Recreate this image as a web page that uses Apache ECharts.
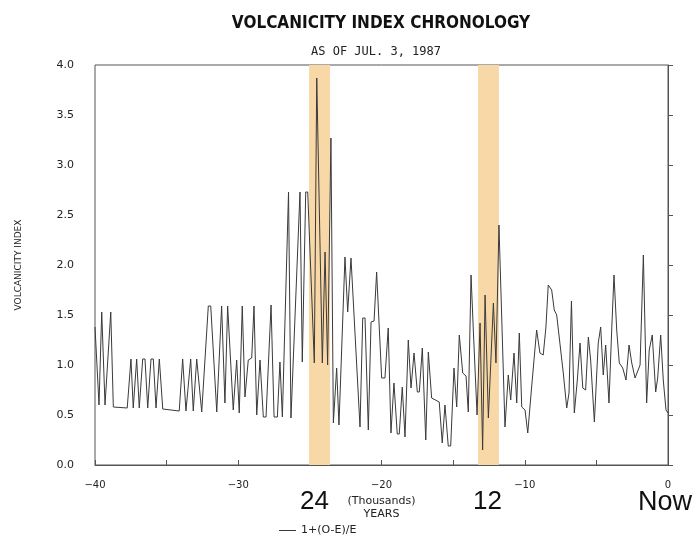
<!DOCTYPE html>
<html><head><meta charset="utf-8">
<script src="https://cdn.jsdelivr.net/npm/echarts@6/dist/echarts.min.js"></script>
<style>html,body{margin:0;padding:0;background:#fff}#c{width:695px;height:537px}</style>
</head><body><div id="c"></div>
<script>
// Years (thousands, negative = before present)
var years = [-40.00,-39.72,-39.53,-39.30,-38.90,-38.72,-37.75,-37.49,-37.33,-37.09,-36.91,-36.67,-36.51,-36.32,-36.09,-35.93,-35.74,-35.51,-35.27,-34.12,-33.88,-33.65,-33.32,-33.14,-32.90,-32.55,-32.09,-31.92,-31.50,-31.16,-30.93,-30.74,-30.35,-30.11,-29.93,-29.72,-29.53,-29.30,-29.06,-28.90,-28.71,-28.48,-28.25,-28.06,-27.71,-27.50,-27.27,-27.09,-26.92,-26.49,-26.32,-25.69,-25.53,-25.29,-25.15,-24.69,-24.52,-24.13,-23.94,-23.76,-23.53,-23.36,-23.13,-22.97,-22.55,-22.36,-22.13,-21.50,-21.31,-21.15,-20.92,-20.73,-20.52,-20.34,-19.99,-19.76,-19.53,-19.34,-19.13,-18.90,-18.76,-18.55,-18.36,-18.13,-17.94,-17.73,-17.50,-17.36,-17.15,-16.91,-16.73,-16.50,-15.97,-15.76,-15.57,-15.34,-15.17,-14.94,-14.75,-14.57,-14.33,-14.10,-13.94,-13.75,-13.59,-13.33,-13.12,-12.94,-12.77,-12.54,-12.19,-12.01,-11.92,-11.80,-11.38,-11.15,-10.98,-10.75,-10.56,-10.38,-10.21,-9.98,-9.79,-9.52,-9.17,-8.94,-8.71,-8.52,-8.36,-8.12,-7.94,-7.77,-7.31,-7.07,-6.91,-6.74,-6.54,-6.33,-6.14,-5.95,-5.75,-5.56,-5.40,-5.14,-4.87,-4.70,-4.52,-4.35,-4.12,-3.93,-3.77,-3.58,-3.40,-3.16,-2.93,-2.72,-2.53,-2.30,-1.95,-1.72,-1.49,-1.31,-1.10,-0.86,-0.72,-0.51,-0.33,-0.14,0.00];
// Volcanicity index 1+(O-E)/E
var index = [1.38,0.60,1.53,0.60,1.53,0.58,0.57,1.06,0.57,1.06,0.57,1.06,1.06,0.57,1.06,1.06,0.57,1.06,0.56,0.54,1.06,0.54,1.06,0.54,1.06,0.53,1.59,1.59,0.53,1.59,0.62,1.59,0.55,1.05,0.52,1.59,0.68,1.05,1.07,1.59,0.50,1.05,0.48,0.48,1.60,0.48,0.48,1.03,0.48,2.73,0.47,2.73,1.03,2.73,2.73,1.02,3.87,1.02,2.13,1.00,3.27,0.42,0.97,0.40,2.08,1.53,2.07,0.38,1.47,1.47,0.35,1.43,1.44,1.93,0.87,0.87,1.37,0.32,0.82,0.31,0.31,0.78,0.28,1.25,0.77,1.12,0.73,0.73,1.17,0.25,1.13,0.67,0.63,0.22,0.60,0.19,0.19,0.97,0.58,1.30,0.92,0.89,0.53,1.90,1.35,0.50,1.42,0.15,1.70,0.47,1.62,1.02,1.60,2.40,0.38,0.90,0.65,1.12,0.62,1.32,0.58,0.55,0.32,0.78,1.35,1.12,1.10,1.38,1.80,1.75,1.55,1.50,0.92,0.57,0.72,1.64,0.52,0.85,1.22,0.77,0.75,1.28,1.05,0.43,1.22,1.38,0.90,1.20,0.62,1.35,1.90,1.35,1.02,0.97,0.85,1.20,1.02,0.87,1.00,2.10,0.62,1.15,1.30,0.73,0.87,1.30,0.85,0.55,0.52];
// Highlighted periods (thousands of years)
var bands = [[-25.06,-23.59],[-13.26,-11.80]];
var bigLabels = ['24','12','Now'];
var xTicks = [-40,-30,-20,-10,0];
var yTicks = [0,0.5,1,1.5,2,2.5,3,3.5,4];

var chart = echarts.init(document.getElementById('c'));
var pts = years.map(function(y,i){return [y,index[i]];});
chart.setOption({
  animation:false,
  backgroundColor:'#fff',
  title:[
    {text:'VOLCANICITY INDEX CHRONOLOGY',left:376,top:10,textAlign:'center',
     textStyle:{fontFamily:'DejaVu Sans Condensed, Liberation Sans Narrow, Liberation Sans',fontWeight:'bold',fontSize:17,color:'#111'}},
    {text:'AS OF JUL. 3, 1987',left:371,top:41,textAlign:'center',
     textStyle:{fontFamily:'DejaVu Sans Mono',fontWeight:'normal',fontSize:12,color:'#222'}}
  ],
  legend:{left:274,top:524,itemWidth:17,itemHeight:1,icon:'rect',itemGap:10,padding:[1,5],
    textStyle:{fontFamily:'DejaVu Sans',fontSize:11,color:'#222'},
    data:[{name:'1+(O-E)/E'}]},
  grid:{left:95,right:27,top:65,bottom:72,show:true,borderColor:'#555',borderWidth:1},
  xAxis:{type:'value',min:-40,max:0,interval:5,
    name:'(Thousands)\nYEARS',nameLocation:'middle',nameGap:27,
    nameTextStyle:{fontFamily:'DejaVu Sans',fontSize:11,color:'#222',lineHeight:13},
    axisLine:{lineStyle:{color:'#555'}},
    axisTick:{inside:true,length:5,lineStyle:{color:'#555'}},
    splitLine:{show:false},
    axisLabel:{fontFamily:'DejaVu Sans',fontSize:10,color:'#222',margin:15,
      formatter:function(v){return xTicks.indexOf(v)>=0?(v<0?'\u2212'+(-v):String(v)):'';}}},
  yAxis:{type:'value',min:0,max:4,interval:0.5,
    name:'VOLCANICITY INDEX',nameLocation:'middle',nameGap:72,nameRotate:90,
    nameTextStyle:{fontFamily:'DejaVu Sans',fontSize:9,color:'#222'},
    axisLine:{show:true,lineStyle:{color:'#555'}},
    axisTick:{show:true,inside:true,length:5,lineStyle:{color:'#555'}},
    splitLine:{show:false},
    axisLabel:{fontFamily:'DejaVu Sans',fontSize:11,color:'#222',margin:21,
      formatter:function(v){return yTicks.indexOf(v)>=0?v.toFixed(1):'';}}},
  series:[
    {name:'bands',type:'line',data:[],z:1,
     markArea:{silent:true,itemStyle:{color:'#F9D8A8'},
       data:bands.map(function(b){return [{xAxis:b[0],yAxis:0},{xAxis:b[1],yAxis:4}];})}},
    {name:'1+(O-E)/E',type:'line',data:pts,symbol:'none',z:3,
     lineStyle:{color:'#3a3a3a',width:1},itemStyle:{color:'#3a3a3a'}}
  ],
  graphic:[
    {type:'text',left:300,top:489,style:{text:bigLabels[0],fontFamily:'Liberation Sans',fontSize:26,fill:'#111'}},
    {type:'text',left:473,top:489,style:{text:bigLabels[1],fontFamily:'Liberation Sans',fontSize:26,fill:'#111'}},
    {type:'text',left:638,top:489,style:{text:bigLabels[2],fontFamily:'Liberation Sans',fontSize:27,fill:'#111'}}
  ]
});
</script></body></html>
